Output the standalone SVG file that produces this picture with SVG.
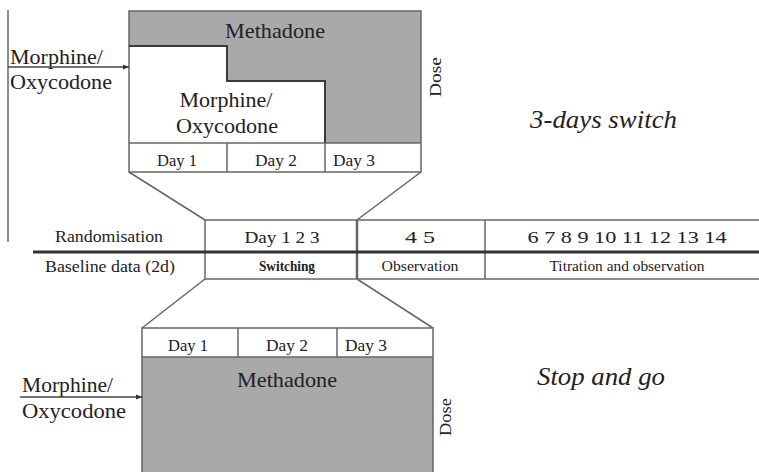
<svg xmlns="http://www.w3.org/2000/svg" width="759" height="472" viewBox="0 0 759 472" font-family="'Liberation Serif', 'DejaVu Serif', 'Times New Roman', serif">
<style>
text{font-family:"Liberation Serif","DejaVu Serif","Times New Roman",serif;fill:#222}
.big{font-size:22px}
.day{font-size:17px}
.tbl{font-size:16px}
.it{font-size:26px;font-style:italic}
.ln{stroke:#666;stroke-width:1.5;fill:none}
.dk{stroke:#3a3a3a;stroke-width:2;fill:none}
.gray{fill:#a9a9a9}
.mid{text-anchor:middle}
</style>
<defs>
<marker id="arr" viewBox="0 0 10 10" refX="10" refY="5" markerWidth="6" markerHeight="6" orient="auto" markerUnits="userSpaceOnUse">
<path d="M0,1 L10,5 L0,9 Z" fill="#333"/>
</marker>
</defs>
<rect width="759" height="472" fill="#fff"/>

<g id="top-block">
<path class="gray" d="M129,11 H421 V143 H325 V81 H227 V46 H129 Z"/>
<rect class="ln" x="129" y="11" width="292" height="161"/>
<path class="dk" d="M129,46 H227 V81 H325 V143"/>
<line class="ln" x1="129" y1="143" x2="421" y2="143"/>
<line class="ln" x1="227" y1="143" x2="227" y2="172"/>
<line class="ln" x1="325" y1="143" x2="325" y2="172"/>
<text class="big mid" x="275" y="38" textLength="100" lengthAdjust="spacingAndGlyphs">Methadone</text>
<text class="big mid" x="226" y="107" textLength="93" lengthAdjust="spacingAndGlyphs">Morphine/</text>
<text class="big mid" x="227" y="133" textLength="102" lengthAdjust="spacingAndGlyphs">Oxycodone</text>
<text class="day mid" x="177" y="166" textLength="40" lengthAdjust="spacingAndGlyphs">Day 1</text>
<text class="day mid" x="276" y="166" textLength="42" lengthAdjust="spacingAndGlyphs">Day 2</text>
<text class="day" x="333" y="166" textLength="42" lengthAdjust="spacingAndGlyphs">Day 3</text>
<text class="day mid" transform="translate(441,77) rotate(-90)" textLength="40" lengthAdjust="spacingAndGlyphs">Dose</text>
</g>

<g id="top-input">
<text class="big" x="10" y="64" textLength="93" lengthAdjust="spacingAndGlyphs">Morphine/</text>
<text class="big" x="10" y="89" textLength="102" lengthAdjust="spacingAndGlyphs">Oxycodone</text>
</g>

<g id="label-3days">
<text class="it" x="530" y="128" textLength="147" lengthAdjust="spacingAndGlyphs">3-days switch</text>
</g>

<g id="timeline">
<line class="ln" x1="205" y1="220" x2="759" y2="220"/>
<line class="ln" x1="205" y1="279" x2="759" y2="279"/>
<line class="ln" x1="205" y1="220" x2="205" y2="279"/>
<line class="ln" x1="357" y1="220" x2="357" y2="279" style="stroke-width:2.5"/>
<line class="ln" x1="485" y1="220" x2="485" y2="279"/>
<line x1="33" y1="252" x2="759" y2="252" stroke="#333" stroke-width="3"/>
<text class="tbl mid" x="109" y="242" textLength="108" lengthAdjust="spacingAndGlyphs">Randomisation</text>
<text class="tbl mid" x="282" y="243" textLength="75" lengthAdjust="spacingAndGlyphs">Day 1 2 3</text>
<text class="tbl mid" x="420" y="243" textLength="30" lengthAdjust="spacingAndGlyphs">4  5</text>
<text class="tbl mid" x="627" y="243" textLength="199" lengthAdjust="spacingAndGlyphs">6 7 8 9 10 11 12 13 14</text>
<text class="tbl mid" x="110" y="272" textLength="130" lengthAdjust="spacingAndGlyphs">Baseline data (2d)</text>
<text class="mid" x="287" y="271" style="font-size:14px;font-weight:bold" textLength="56" lengthAdjust="spacingAndGlyphs">Switching</text>
<text class="mid" x="420" y="271" style="font-size:14px" textLength="77" lengthAdjust="spacingAndGlyphs">Observation</text>
<text class="mid" x="627" y="271" style="font-size:14px" textLength="155" lengthAdjust="spacingAndGlyphs">Titration and observation</text>
</g>

<g id="bottom-block">
<rect class="gray" x="142" y="357" width="291" height="120"/>
<line class="ln" x1="142" y1="357" x2="142" y2="472"/>
<line class="ln" x1="433" y1="357" x2="433" y2="472"/>
<rect class="ln" x="142" y="328" width="291" height="29" style="fill:#fff"/>
<line class="ln" x1="238" y1="328" x2="238" y2="357"/>
<line class="ln" x1="337" y1="328" x2="337" y2="357"/>
<text class="day mid" x="188" y="351" textLength="40" lengthAdjust="spacingAndGlyphs">Day 1</text>
<text class="day mid" x="287" y="351" textLength="42" lengthAdjust="spacingAndGlyphs">Day 2</text>
<text class="day" x="345" y="351" textLength="42" lengthAdjust="spacingAndGlyphs">Day 3</text>
<text class="big mid" x="287" y="387" textLength="100" lengthAdjust="spacingAndGlyphs">Methadone</text>
<text class="day mid" transform="translate(451,417) rotate(-90)" textLength="38" lengthAdjust="spacingAndGlyphs">Dose</text>
</g>

<g id="bottom-input">
<text class="big" x="22" y="392" textLength="91" lengthAdjust="spacingAndGlyphs">Morphine/</text>
<text class="big" x="22" y="418" textLength="104" lengthAdjust="spacingAndGlyphs">Oxycodone</text>
</g>

<g id="label-stopgo">
<text class="it" x="537" y="385" textLength="128" lengthAdjust="spacingAndGlyphs">Stop and go</text>
</g>

<g id="connectors">
<line class="ln" x1="8" y1="10" x2="8" y2="242"/>
<line class="ln" x1="8" y1="67" x2="129" y2="67" marker-end="url(#arr)" style="stroke:#444"/>
<line class="ln" x1="20" y1="397" x2="142" y2="397" marker-end="url(#arr)" style="stroke:#444"/>
<line class="ln" x1="129" y1="172" x2="205" y2="220"/>
<line class="ln" x1="421" y1="172" x2="357" y2="220"/>
<line class="ln" x1="205" y1="279" x2="142" y2="328"/>
<line class="ln" x1="357" y1="279" x2="433" y2="328"/>
</g>
</svg>
